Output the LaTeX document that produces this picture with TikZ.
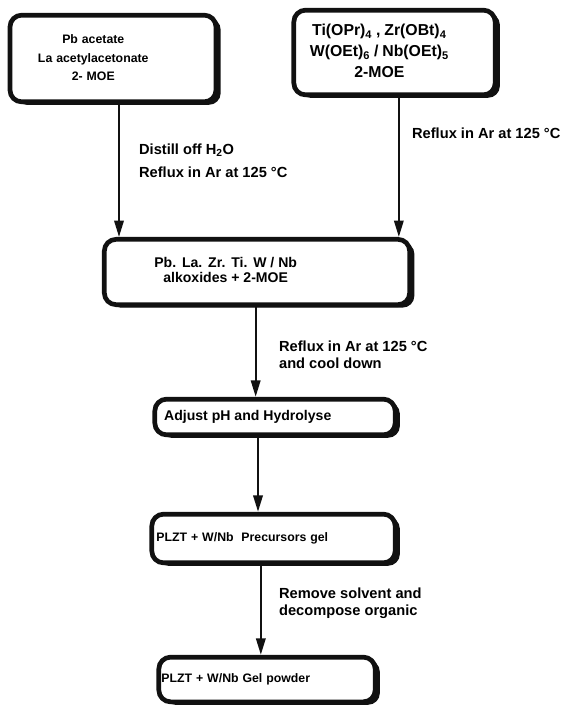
\documentclass[tikz,border=0pt]{standalone}
\usepackage{fontspec}
\setmainfont{Liberation Sans}
\usetikzlibrary{arrows.meta,shadows}
\definecolor{ink}{HTML}{111111}
\newcommand{\fsz}[2]{\fontsize{#1}{#2}\selectfont\bfseries}
\newcommand{\lines}[1]{\begin{tabular}{@{}c@{}}#1\end{tabular}}
\tikzset{
  box/.style={draw=ink, fill=white, line width=4pt, rounded corners=10pt,
              align=left, inner ysep=2pt,
              drop shadow={shadow xshift=4pt, shadow yshift=-2.5pt, fill=ink, opacity=1}},
  ar/.style={-{Triangle[length=14pt, width=8pt]}, line width=1.9pt, draw=ink},
  lbl/.style={anchor=west, align=left, font=\fsz{12.5}{17}}
}

\begin{document}
\begin{tikzpicture}[x=0.03cm,y=-0.03cm]
  \fill[white] (0,0) rectangle (576,709);
  \useasboundingbox (0,0) rectangle (576,709);

  % starting solutions
  \node[box, minimum height=2.6cm, inner xsep=0.84cm, text width=4.5cm] (pb) at (113,58.5)
    {\fsz{10.5}{16}\lines{Pb acetate\\La acetylacetonate\\2- MOE}};
  \node[box, minimum height=2.54cm, inner xsep=0.48cm, text width=5.08cm] (ti) at (394.5,52.5)
    {\fsz{13.5}{18}\lines{Ti(OPr)\textsubscript{4} , Zr(OBt)\textsubscript{4}\\W(OEt)\textsubscript{6} / Nb(OEt)\textsubscript{5}\\2-MOE}};

  % mixed alkoxides and the steps after it
  \node[box, minimum height=1.96cm, inner xsep=1.5cm, text width=6.16cm] (alk) at (257,272)
    {\fsz{12}{12.5}\lines{Pb. La. Zr. Ti. W / Nb\\alkoxides + 2-MOE}};
  \node[box, minimum height=1.07cm, inner xsep=0.28cm, text width=6.65cm] (hyd) at (275,417)
    {\fsz{12}{14}Adjust pH and Hydrolyse};
  \node[box, minimum height=1.46cm, inner xsep=0.14cm, text width=7.02cm] (gel) at (273.5,538.5)
    {\fsz{10.5}{12}PLZT + W/Nb\ \ Precursors gel};
  \node[box, minimum height=1.34cm, inner xsep=0.08cm, text width=6.33cm] (pow) at (267,679.5)
    {\fsz{10.5}{12}PLZT + W/Nb Gel powder};

  \draw[ar] ([xshift=0.18cm]pb.south) -- ([xshift=0.18cm]pb.south |- alk.north);
  \draw[ar] ([xshift=0.13cm]ti.south) -- ([xshift=0.13cm]ti.south |- alk.north);
  \draw[ar] ([xshift=-0.04cm]alk.south) -- ([xshift=-0.04cm]alk.south |- hyd.north);
  \draw[ar] ([xshift=-0.51cm]hyd.south) -- ([xshift=-0.51cm]hyd.south |- gel.north);
  \draw[ar] ([xshift=-0.38cm]gel.south) -- ([xshift=-0.38cm]gel.south |- pow.north);

  \node[lbl, font=\fsz{12.5}{20}] (l1) at (135,161) {Distill off H\textsubscript{2}O\\Reflux in Ar at 125 °C};
  \node[lbl] (l2) at (408,133) {Reflux in Ar at 125 °C};
  \node[lbl, font=\fsz{12.5}{14.5}] (l3) at (275,355) {Reflux in Ar at 125 °C\\and cool down};
  \node[lbl, font=\fsz{12.5}{14.5}] (l4) at (275,603) {Remove solvent and\\decompose organic};
\end{tikzpicture}
\end{document}
